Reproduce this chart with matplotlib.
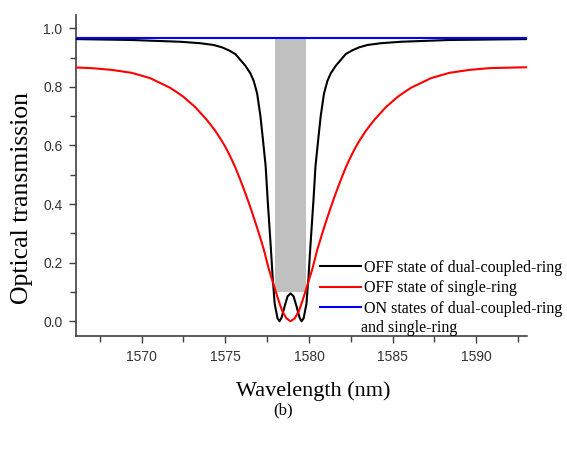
import matplotlib
matplotlib.use('Agg')
import matplotlib.pyplot as plt
from matplotlib.ticker import MultipleLocator

# wavelength (nm) and transmission
wl_dual = [1566.1, 1569.4, 1572.3, 1573.5, 1574.3, 1574.8, 1575.2, 1575.6, 1575.9,
           1576.2, 1576.5, 1576.7, 1576.9, 1577.1, 1577.23, 1577.41, 1577.53,
           1577.71, 1577.83, 1577.95, 1578.12, 1578.24, 1578.36, 1578.54, 1578.72,
           1578.9, 1579.08, 1579.26, 1579.44, 1579.56, 1579.68, 1579.85, 1579.97,
           1580.09, 1580.27, 1580.39, 1580.57, 1580.7, 1580.9, 1581.1, 1581.3,
           1581.6, 1581.9, 1582.2, 1582.6, 1583.0, 1583.5, 1584.3, 1585.5, 1588.4, 1593.0]
t_dual = [0.963, 0.960, 0.954, 0.949, 0.943, 0.935, 0.925, 0.912, 0.892,
          0.872, 0.846, 0.820, 0.778, 0.700, 0.630, 0.530, 0.415,
          0.260, 0.150, 0.060, 0.010, 0.000, 0.012, 0.050, 0.085,
          0.095, 0.085, 0.050, 0.012, 0.000, 0.010, 0.060, 0.150,
          0.260, 0.415, 0.530, 0.630, 0.700, 0.778, 0.820, 0.846,
          0.872, 0.892, 0.912, 0.925, 0.935, 0.943, 0.949, 0.954, 0.960, 0.963]

wl_single = [1566.1, 1567.0, 1568.2, 1569.4, 1570.5, 1571.7, 1572.1, 1572.5, 1573.2,
             1573.9, 1574.4, 1574.8, 1575.05, 1575.3, 1575.6, 1575.9, 1576.1, 1576.3,
             1576.55, 1576.8, 1577.05, 1577.3, 1577.6, 1578.0, 1578.2, 1578.4, 1578.65,
             1578.9, 1579.15, 1579.4, 1579.6, 1579.8, 1580.2, 1580.5, 1580.75, 1581.0,
             1581.25, 1581.5, 1581.7, 1581.9, 1582.2, 1582.5, 1582.75, 1583.0, 1583.4,
             1583.9, 1584.6, 1585.3, 1585.7, 1586.1, 1587.3, 1588.4, 1589.6, 1590.8, 1593.0]
t_single = [0.866, 0.864, 0.858, 0.848, 0.830, 0.797, 0.782, 0.766, 0.731,
            0.687, 0.650, 0.615, 0.590, 0.562, 0.525, 0.482, 0.452, 0.421,
            0.380, 0.337, 0.292, 0.245, 0.178, 0.104, 0.068, 0.035, 0.010,
            0.000, 0.010, 0.035, 0.068, 0.104, 0.178, 0.245, 0.292, 0.337,
            0.380, 0.421, 0.452, 0.482, 0.525, 0.562, 0.590, 0.615, 0.650,
            0.687, 0.731, 0.766, 0.782, 0.797, 0.830, 0.848, 0.858, 0.864, 0.867]

wl_on = [1566.1, 1593.0]
t_on = [0.967, 0.967]

# shaded band between the two dips
band_wl = [1577.95, 1579.8]
band_low = 0.10
band_high = 0.963

labels = ['OFF state of dual-coupled-ring', 'OFF state of single-ring',
          'ON states of dual-coupled-ring']

fig = plt.figure(figsize=(5.67, 4.49), dpi=100)
ax = fig.add_axes([0.1347, 0.2506, 0.7939, 0.7171])

ax.fill_between(band_wl, band_low, band_high, color='#c0c0c0', lw=0, zorder=1)
ax.plot(wl_dual, t_dual, color='black', lw=1.5, label=labels[0], zorder=3)
ax.plot(wl_single, t_single, color='#ff0000', lw=1.5, label=labels[1], zorder=3)
ax.plot(wl_on, t_on, color='#0000ff', lw=1.5, label=labels[2], zorder=4)

ax.set_xlim(1566.1, 1593.0)
ax.set_ylim(-0.052, 1.047)
ax.xaxis.set_major_locator(MultipleLocator(5))
ax.xaxis.set_minor_locator(MultipleLocator(2.5))
ax.yaxis.set_major_locator(MultipleLocator(0.2))
ax.yaxis.set_minor_locator(MultipleLocator(0.1))

for side in ['top', 'right']:
    ax.spines[side].set_visible(False)
for side in ['left', 'bottom']:
    ax.spines[side].set_color('#404040')
    ax.spines[side].set_linewidth(1.2)

ax.tick_params(which='both', direction='out', color='#404040', width=1.0)
ax.tick_params(which='major', length=5, pad=5, labelsize=10, labelcolor='#333333')
ax.tick_params(which='minor', length=4)
for lab in ax.get_xticklabels() + ax.get_yticklabels():
    lab.set_family('Liberation Sans')

ax.set_xlabel('Wavelength (nm)', family='Liberation Serif', fontsize=16)
ax.set_ylabel('Optical transmission', family='Liberation Serif', fontsize=18.5)
ax.xaxis.set_label_coords(0.526, -0.138)
ax.yaxis.set_label_coords(-0.096, 0.43)

leg = ax.legend(loc='upper left', bbox_to_anchor=(0.541, 0.238), frameon=False,
                borderpad=0, borderaxespad=0, handlelength=2.6, handletextpad=0.19,
                labelspacing=0.28, prop={'family': 'Liberation Serif', 'size': 11.5})
# second line of the third legend entry
ax.text(0.632, 0.026, 'and single-ring', transform=ax.transAxes, ha='left', va='center',
        family='Liberation Serif', fontsize=11.5)

fig.text(0.499, 0.087, '(b)', ha='center', va='center', family='Liberation Serif', fontsize=12)

fig.savefig('out.png', dpi=100)
